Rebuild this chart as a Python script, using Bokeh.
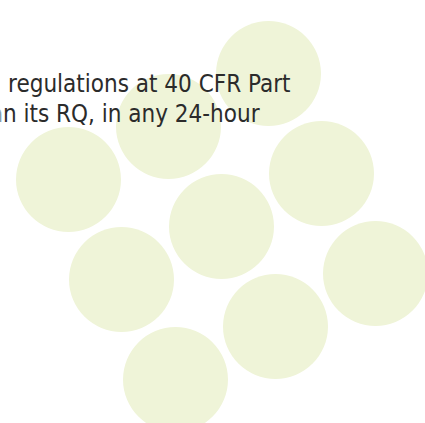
from bokeh.plotting import figure
from bokeh.models import Range1d, ColumnDataSource
from bokeh.core.properties import value
from bokeh.embed import file_html
from bokeh.resources import INLINE

# circle centres (page pixel units) and radius
circle_x = [268, 168, 68, 321, 221, 121, 375, 275, 175]
circle_y = [73, 126, 179, 173, 226, 279, 273, 326, 379]
circle_r = [52.5] * 9

text_lines = ["al regulations at 40 CFR Part", "an its RQ, in any 24-hour"]
text_x = [290, 259]
text_y = [83, 113]

W, H = 425, 423
p = figure(width=W, height=H, output_backend="svg", toolbar_location=None,
           x_range=Range1d(0, W), y_range=Range1d(H, 0),
           min_border=0, outline_line_color=None)
p.axis.visible = False
p.grid.visible = False
p.background_fill_color = "white"
p.border_fill_color = "white"

p.circle(x=circle_x, y=circle_y, radius=circle_r, fill_color="#eff4d8",
         line_color=None)

src = ColumnDataSource(dict(x=text_x, y=text_y, t=text_lines))
p.text(x="x", y="y", text="t", source=src, text_align="right",
       text_baseline="alphabetic",
       text_font=value("'Liberation Sans Narrow', 'DejaVu Sans Condensed', 'Roboto Condensed', 'Arial Narrow', Roboto, sans-serif"),
       text_font_size="24px", text_color="#2b2b2b")

open("out.html", "w").write(file_html(p, INLINE))
